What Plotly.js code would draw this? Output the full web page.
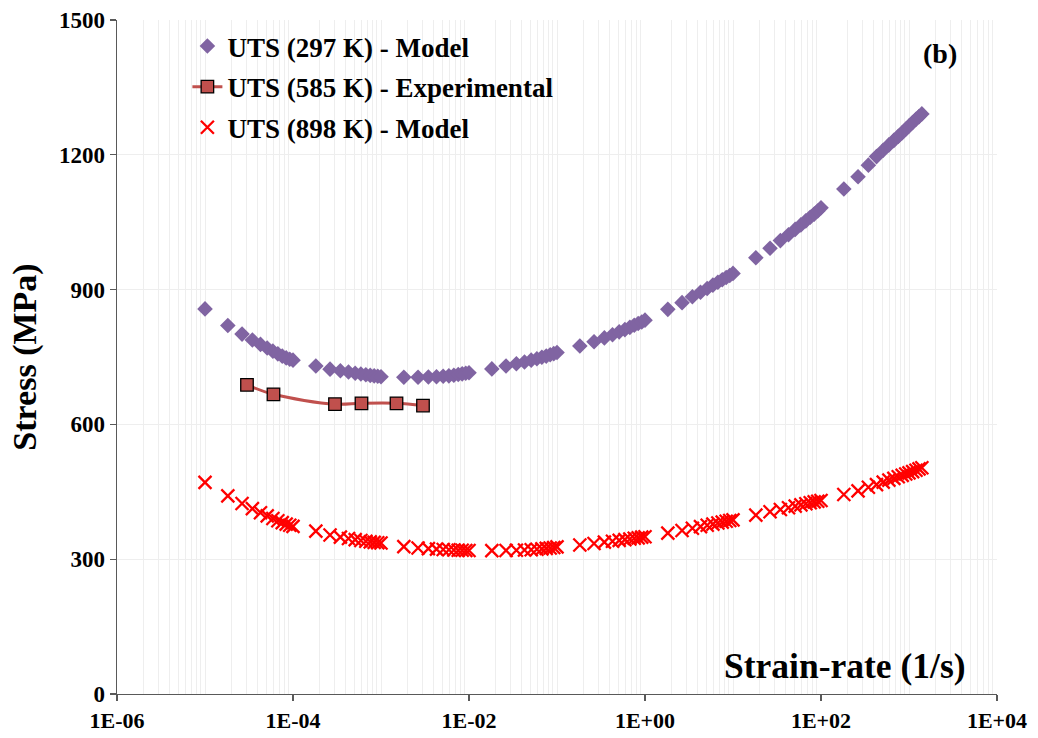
<!DOCTYPE html>
<html>
<head>
<meta charset="utf-8">
<script src="https://cdn.plot.ly/plotly-3.0.1.min.js"></script>
<style>html,body{margin:0;padding:0;background:#fff;}#chart{width:1038px;height:738px;}</style>
</head>
<body>
<div id="chart"></div>
<script>
// Strain rate (1/s) sample points
const strainRate = [
  1.000e-5, 1.818e-5, 2.636e-5, 3.455e-5, 4.273e-5, 5.091e-5, 5.909e-5, 6.727e-5, 7.545e-5, 8.364e-5, 9.182e-5,
  1.000e-4, 1.818e-4, 2.636e-4, 3.455e-4, 4.273e-4, 5.091e-4, 5.909e-4, 6.727e-4, 7.545e-4, 8.364e-4, 9.182e-4,
  1.000e-3, 1.818e-3, 2.636e-3, 3.455e-3, 4.273e-3, 5.091e-3, 5.909e-3, 6.727e-3, 7.545e-3, 8.364e-3, 9.182e-3,
  1.000e-2, 1.818e-2, 2.636e-2, 3.455e-2, 4.273e-2, 5.091e-2, 5.909e-2, 6.727e-2, 7.545e-2, 8.364e-2, 9.182e-2,
  1.000e-1, 1.818e-1, 2.636e-1, 3.455e-1, 4.273e-1, 5.091e-1, 5.909e-1, 6.727e-1, 7.545e-1, 8.364e-1, 9.182e-1,
  1.000e0, 1.818e0, 2.636e0, 3.455e0, 4.273e0, 5.091e0, 5.909e0, 6.727e0, 7.545e0, 8.364e0, 9.182e0,
  1.000e1, 1.818e1, 2.636e1, 3.455e1, 4.273e1, 5.091e1, 5.909e1, 6.727e1, 7.545e1, 8.364e1, 9.182e1,
  1.000e2, 1.818e2, 2.636e2, 3.455e2, 4.273e2, 5.091e2, 5.909e2, 6.727e2, 7.545e2, 8.364e2, 9.182e2,
  1000, 1100, 1200, 1300, 1400
];

// UTS (297 K) - Model, MPa
const uts297 = [
  857, 820, 801, 788, 778, 770, 763, 757, 752, 748, 745,
  743, 730, 723, 719.5, 716.5, 714, 712, 710.5, 709, 708, 707,
  706, 705, 705, 705.5, 706, 707, 708, 709.5, 711, 712.5, 714,
  715, 723.5, 730, 735, 739, 743, 746, 749.5, 752, 755, 757.5,
  760, 774.5, 784, 792.5, 799.5, 806, 811, 816, 820.5, 824.5, 828,
  832, 856, 871, 884, 894, 902.5, 910, 916.5, 922, 927, 931.5,
  936, 971, 992, 1009, 1022, 1034, 1044, 1053, 1061, 1068, 1075,
  1082, 1124, 1151, 1177, 1196, 1210, 1222, 1232, 1241, 1249, 1257,
  1264, 1272, 1279, 1285, 1291
];

// UTS (898 K) - Model, MPa
const uts898 = [
  471, 441, 424, 412.5, 403.5, 396.5, 390.5, 385.5, 381.5, 378, 375.5,
  373, 362.5, 354, 349, 346, 343.5, 341.5, 340, 338.5, 337.5, 336.5,
  336, 328, 325, 323.5, 322.5, 321.5, 321, 320.5, 320, 320, 319.5,
  319.5, 319, 319.5, 320, 320.5, 321, 322, 323, 324, 325, 326,
  327.5, 331.5, 335, 338, 340, 342, 343.5, 345, 346.5, 347.5, 349,
  350, 358, 364, 369, 372.5, 375.5, 378, 380.5, 382.5, 384.5, 386,
  387.5, 398, 405.5, 410.5, 414.5, 418, 421, 423.5, 425.5, 427.5, 429,
  430.5, 444, 452, 460, 466, 471.5, 476, 480, 483.5, 486.5, 489.5,
  492, 495, 498, 501, 503.5
];

// UTS (585 K) - Experimental
const expRate = [3e-5, 6e-5, 3e-4, 6e-4, 1.5e-3, 3e-3];
const uts585 = [688, 667, 645, 647, 647, 642];

// Axis ticks
const xTickVals = [1e-6, 1e-4, 1e-2, 1, 1e2, 1e4];
const xTickText = ['1E-06', '1E-04', '1E-02', '1E+00', '1E+02', '1E+04'];
const yTickVals = [0, 300, 600, 900, 1200, 1500];

const minorVals = [];
for (let d = -6; d <= 3; d++) {
  for (let k = 1; k <= 9; k++) {
    if (k === 1 && d % 2 === 0) continue;
    minorVals.push(k * Math.pow(10, d));
  }
}

const FONT = 'Liberation Serif, Times New Roman, serif';
const axisColor = '#595959';
const gridColor = '#EEEEEE';

const traces = [
  {
    x: strainRate, y: uts297, name: 'UTS (297 K) - Model',
    type: 'scatter', mode: 'markers', legendgroup: 'a',
    marker: {symbol: 'diamond', size: 12, color: '#8064A2'}
  },
  {
    x: expRate, y: uts585, name: 'UTS (585 K) - Experimental',
    type: 'scatter', mode: 'lines+markers', legendgroup: 'b',
    line: {color: '#C0504D', width: 3, shape: 'spline'},
    marker: {symbol: 'square', size: 12.5, color: '#C0504D', line: {color: '#000', width: 1.3}}
  },
  {
    x: strainRate, y: uts898, name: 'UTS (898 K) - Model',
    type: 'scatter', mode: 'markers', legendgroup: 'c',
    marker: {symbol: 'x-thin', size: 13, color: '#FF0000', line: {color: '#FF0000', width: 2.3}}
  }
];

const layout = {
  width: 1038, height: 738,
  margin: {l: 117, r: 41, t: 20, b: 44},
  paper_bgcolor: '#ffffff', plot_bgcolor: '#ffffff',
  font: {family: FONT, color: '#000'},
  showlegend: true,
  legend: {
    x: 0.08, y: 0.997, xanchor: 'left', yanchor: 'top',
    bgcolor: 'rgba(0,0,0,0)', borderwidth: 0,
    font: {family: FONT, size: 27, weight: 'bold', color: '#000'},
    tracegroupgap: 2.5, traceorder: 'grouped'
  },
  xaxis: {
    type: 'log', range: [-6, 4],
    tickmode: 'array', tickvals: xTickVals, ticktext: xTickText,
    tickfont: {family: FONT, size: 22, weight: 'bold', color: '#000'},
    ticks: 'outside', ticklen: 6, tickcolor: axisColor, tickwidth: 1.3,
    showline: true, linecolor: axisColor, linewidth: 1.3,
    showgrid: false, zeroline: false,
    minor: {tickmode: 'array', tickvals: minorVals, showgrid: true, gridcolor: gridColor, gridwidth: 1, ticks: ''}
  },
  yaxis: {
    range: [0, 1500],
    tickmode: 'array', tickvals: yTickVals,
    tickfont: {family: FONT, size: 23, weight: 'bold', color: '#000'},
    ticks: 'outside', ticklen: 6, tickcolor: axisColor, tickwidth: 1.3,
    showline: true, linecolor: axisColor, linewidth: 1.3,
    showgrid: true, gridcolor: gridColor, gridwidth: 1.3, zeroline: false,
    title: {text: 'Stress (MPa)', font: {family: FONT, size: 34, weight: 'bold', color: '#000'}, standoff: 12}
  },
  annotations: [
    {
      text: 'Strain-rate (1/s)', xref: 'paper', yref: 'paper',
      x: 0.967, y: 0.042, xanchor: 'right', yanchor: 'middle', showarrow: false,
      font: {family: FONT, size: 35.5, weight: 'bold', color: '#000'}
    },
    {
      text: '(b)', xref: 'paper', yref: 'paper',
      x: 0.935, y: 0.951, xanchor: 'center', yanchor: 'middle', showarrow: false,
      font: {family: FONT, size: 28, weight: 'bold', color: '#000'}
    }
  ]
};

Plotly.newPlot('chart', traces, layout, {staticPlot: true, displayModeBar: false});
</script>
</body>
</html>
